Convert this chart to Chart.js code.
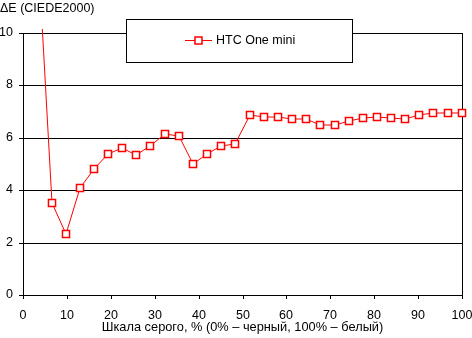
<!DOCTYPE html>
<html>
<head>
<meta charset="utf-8">
<script src="https://cdn.jsdelivr.net/npm/chart.js@4.4.1/dist/chart.umd.min.js"></script>
<style>
  html, body { margin: 0; padding: 0; background: #fff; }
  #wrap { width: 472px; height: 338px; }
</style>
</head>
<body>
<div id="wrap"><canvas id="chart" width="472" height="338"></canvas></div>
<script>
// Grey scale steps, % (0% black, 100% white)
const grayLevels = [3.2, 6.5, 9.7, 12.9, 16.1, 19.4, 22.6, 25.8, 29.0, 32.3, 35.5,
  38.7, 41.9, 45.2, 48.4, 51.6, 54.8, 58.1, 61.3, 64.5, 67.7, 71.0, 74.2, 77.4,
  80.6, 83.9, 87.1, 90.3, 93.5, 96.8, 100];

// Delta E (CIEDE2000) per step
const deltaE = [13.8, 3.52, 2.34, 4.1, 4.82, 5.39, 5.61, 5.36, 5.7, 6.15, 6.08,
  5.01, 5.39, 5.7, 5.75, 6.86, 6.79, 6.79, 6.71, 6.71, 6.48, 6.48, 6.63, 6.75,
  6.79, 6.75, 6.71, 6.86, 6.94, 6.94, 6.94];

const seriesName = 'HTC One mini';
const yTitle = 'ΔE (CIEDE2000)';
const xTitle = 'Шкала серого, % (0% – черный, 100% – белый)';

const FONT = '"Liberation Sans", Arial, sans-serif';

// Top-left title and boxed legend
const decorations = {
  id: 'decorations',
  afterDraw(chart) {
    const ctx = chart.ctx;
    ctx.save();
    ctx.font = '12.5px ' + FONT;
    ctx.fillStyle = '#000';
    ctx.textBaseline = 'middle';
    ctx.textAlign = 'left';
    ctx.fillText(yTitle, 0, 9);

    // legend box
    ctx.fillStyle = '#fff';
    ctx.fillRect(126, 19, 226, 43);
    ctx.strokeStyle = '#000';
    ctx.lineWidth = 1;
    ctx.strokeRect(126.5, 19.5, 226, 43);

    ctx.strokeStyle = '#ff0000';
    ctx.beginPath();
    ctx.moveTo(185, 40.5);
    ctx.lineTo(212, 40.5);
    ctx.stroke();
    ctx.fillStyle = '#fff';
    ctx.lineWidth = 1.5;
    ctx.fillRect(195, 37, 7, 7);
    ctx.strokeRect(195, 37, 7, 7);

    ctx.fillStyle = '#000';
    ctx.fillText(chart.data.datasets[0].label, 216, 41);
    ctx.restore();
  }
};

new Chart(document.getElementById('chart'), {
  type: 'line',
  data: {
    datasets: [{
      label: seriesName,
      data: grayLevels.map((x, i) => ({ x: x, y: deltaE[i] })),
      borderColor: '#ff0000',
      borderWidth: 1,
      pointStyle: 'rect',
      pointRadius: 5,
      pointBorderWidth: 1.5,
      pointBackgroundColor: '#fff',
      pointBorderColor: '#ff0000',
      tension: 0,
      clip: { left: 0, top: 4, right: 6, bottom: 6 }
    }]
  },
  options: {
    responsive: false,
    animation: false,
    devicePixelRatio: 1,
    layout: { padding: { top: 33, right: 10, left: 0, bottom: 0 } },
    plugins: {
      legend: { display: false },
      title: { display: false },
      tooltip: { enabled: false }
    },
    scales: {
      x: {
        type: 'linear',
        min: 0,
        max: 100,
        alignToPixels: true,
        afterFit(scale) {
          scale.height = 43;
          scale.paddingLeft = 0;
          scale.paddingRight = 0;
        },
        border: { color: '#000', width: 1 },
        grid: {
          color: ctx => ctx.tick && ctx.tick.value === 100 ? '#000' : 'rgba(0,0,0,0)',
          tickColor: '#000',
          tickLength: 4,
          lineWidth: 1
        },
        ticks: {
          stepSize: 10,
          color: '#000',
          padding: 9,
          maxRotation: 0,
          font: { family: FONT, size: 12.5 }
        },
        title: {
          display: true,
          text: xTitle,
          color: '#000',
          padding: { top: 0, bottom: 3 },
          font: { family: FONT, size: 12.8 }
        }
      },
      y: {
        min: 0,
        max: 10,
        alignToPixels: true,
        afterFit(scale) {
          scale.width = 23;
          scale.paddingTop = 0;
          scale.paddingBottom = 0;
        },
        border: { color: '#000', width: 1 },
        grid: {
          color: '#000',
          tickColor: '#000',
          tickLength: 4,
          lineWidth: 1
        },
        ticks: {
          stepSize: 2,
          color: '#000',
          padding: 6,
          font: { family: FONT, size: 12.5 }
        }
      }
    }
  },
  plugins: [decorations]
});
</script>
</body>
</html>
